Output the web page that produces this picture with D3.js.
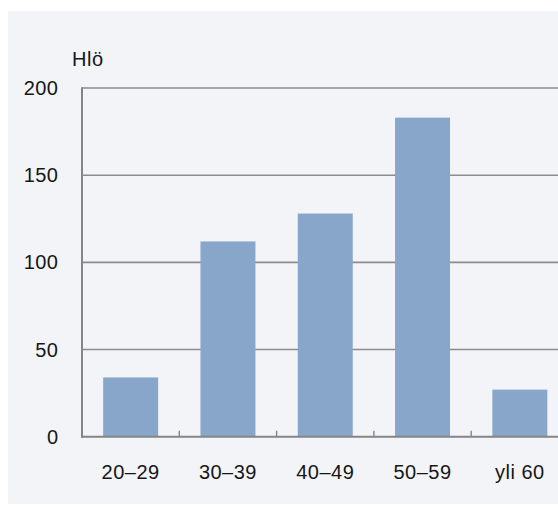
<!DOCTYPE html>
<html>
<head>
<meta charset="utf-8">
<script src="https://cdn.jsdelivr.net/npm/d3@7"></script>
<style>
  html, body { margin: 0; padding: 0; background: #ffffff; }
  svg { display: block; }
  text { font-family: "Liberation Sans", Arial, sans-serif; fill: #161616; letter-spacing: 0.5px; }
</style>
</head>
<body>
<svg id="chart" width="558" height="505"></svg>
<script>
// Age groups and head counts
const categories = ["20–29", "30–39", "40–49", "50–59", "yli 60"];
const values = [34, 112, 128, 183, 27];
const yTicks = [0, 50, 100, 150, 200];
const yLabel = "Hlö";

const W = 558, H = 505;
const svg = d3.select("#chart");

// panel background
svg.append("rect")
  .attr("x", 8).attr("y", 11)
  .attr("width", W - 8).attr("height", H - 12)
  .attr("fill", "#f3f4f8");

const left = 82, step = 97.3;
const x = d3.scaleBand()
  .domain(categories)
  .range([left, left + step * categories.length])
  .paddingInner(0.435)
  .paddingOuter(0.2175);

const y = d3.scaleLinear().domain([0, 200]).range([436.7, 88]);

// horizontal gridlines
svg.append("g")
  .selectAll("line")
  .data(yTicks.filter(t => t > 0))
  .join("line")
  .attr("x1", left).attr("x2", W)
  .attr("y1", d => y(d)).attr("y2", d => y(d))
  .attr("stroke", "#8c8c8c")
  .attr("stroke-width", 1.6);

// bars
svg.append("g")
  .selectAll("rect")
  .data(values)
  .join("rect")
  .attr("x", (d, i) => x(categories[i]))
  .attr("width", x.bandwidth())
  .attr("y", d => y(d))
  .attr("height", d => y(0) - y(d))
  .attr("fill", "#87a6c9");

// y axis line
svg.append("line")
  .attr("x1", left).attr("x2", left)
  .attr("y1", y(200) - 0.8).attr("y2", y(0) + 1)
  .attr("stroke", "#858585").attr("stroke-width", 2);

// x axis line
svg.append("line")
  .attr("x1", left - 1).attr("x2", W)
  .attr("y1", y(0)).attr("y2", y(0))
  .attr("stroke", "#858585").attr("stroke-width", 2);

// category boundary ticks
const bounds = d3.range(1, categories.length).map(i => left + step * i);
svg.append("g")
  .selectAll("line")
  .data(bounds)
  .join("line")
  .attr("x1", d => d).attr("x2", d => d)
  .attr("y1", y(0)).attr("y2", y(0) - 6)
  .attr("stroke", "#858585").attr("stroke-width", 1.4);

// y tick labels
svg.append("g")
  .selectAll("text")
  .data(yTicks)
  .join("text")
  .attr("x", 58.5)
  .attr("y", d => y(d))
  .attr("dy", "0.35em")
  .attr("text-anchor", "end")
  .attr("font-size", 20)
  .text(d => d);

// category labels
svg.append("g")
  .selectAll("text")
  .data(categories)
  .join("text")
  .attr("x", d => x(d) + x.bandwidth() / 2)
  .attr("y", 479)
  .attr("text-anchor", "middle")
  .attr("font-size", 20)
  .text(d => d);

// unit label
svg.append("text")
  .attr("x", 72).attr("y", 66)
  .attr("font-size", 20)
  .text(yLabel);
</script>
</body>
</html>
